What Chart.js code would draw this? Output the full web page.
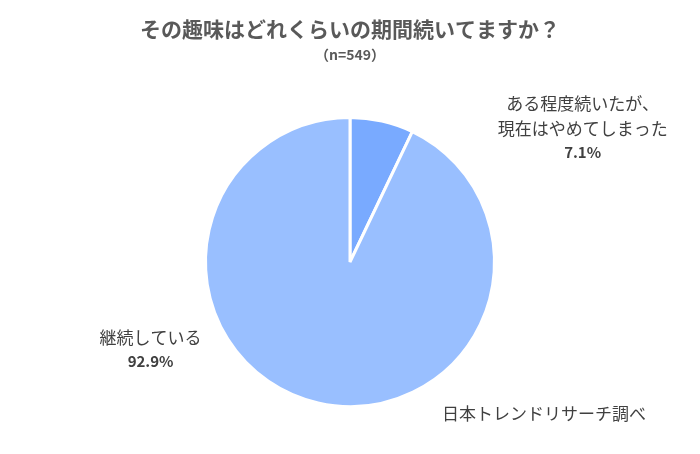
<!DOCTYPE html>
<html>
<head>
<meta charset="utf-8">
<script src="https://cdn.jsdelivr.net/npm/chart.js@4"></script>
<style>
  html, body { margin: 0; padding: 0; background: #fff; }
  #wrap { width: 700px; height: 454px; }
</style>
</head>
<body>
<div id="wrap"><canvas id="myChart" width="700" height="454"></canvas></div>
<script>
// datos del gráfico
const categorias = ['ある程度続いたが、\n現在はやめてしまった', '継続している'];
const porcentajes = [7.1, 92.9];
const colores = ['#79AAFF', '#99BFFF'];
const titulo = 'その趣味はどれくらいの期間続いてますか？';
const subtitulo = '（n=549）';
const fuente = '日本トレンドリサーチ調べ';

const FONT = '"Noto Sans CJK JP", "Noto Sans", sans-serif';

// etiquetas fuera del pastel + titulo + fuente
const etiquetasPlugin = {
  id: 'etiquetas',
  afterDraw(chart) {
    const ctx = chart.ctx;
    const arcs = chart.getDatasetMeta(0).data;
    const cx = arcs[0].x, cy = arcs[0].y, r = arcs[0].outerRadius;
    ctx.save();
    ctx.textAlign = 'center';
    ctx.textBaseline = 'middle';

    // titulo
    ctx.fillStyle = '#595959';
    ctx.font = 'bold 21px ' + FONT;
    ctx.fillText(titulo, chart.width / 2, 29);
    ctx.font = 'bold 14px ' + FONT;
    ctx.fillText(subtitulo, chart.width / 2, 55);

    // posiciones de etiquetas relativas al centro
    const pos = [
      { x: cx + r * 1.61, y: cy - r * 1.10 },
      { x: cx - r * 1.38, y: cy + r * 0.52 }
    ];
    categorias.forEach((cat, i) => {
      const lineas = cat.split('\n');
      let y = pos[i].y;
      ctx.fillStyle = '#404040';
      ctx.font = '17px ' + FONT;
      lineas.forEach((l) => {
        ctx.fillText(l, pos[i].x, y);
        y += 25;
      });
      ctx.font = 'bold 15px ' + FONT;
      ctx.fillText(porcentajes[i].toFixed(1) + '%', pos[i].x, y - 1);
    });

    // fuente
    ctx.fillStyle = '#404040';
    ctx.font = '17px ' + FONT;
    ctx.fillText(fuente, 544, 414);
    ctx.restore();
  }
};

new Chart(document.getElementById('myChart'), {
  type: 'pie',
  data: {
    labels: categorias,
    datasets: [{
      data: porcentajes,
      backgroundColor: colores,
      borderColor: '#ffffff',
      borderWidth: 3
    }]
  },
  options: {
    responsive: false,
    animation: false,
    layout: { padding: { top: 116, bottom: 46, left: 100, right: 100 } },
    plugins: {
      legend: { display: false },
      tooltip: { enabled: false },
      title: { display: false }
    }
  },
  plugins: [etiquetasPlugin]
});
</script>
</body>
</html>
